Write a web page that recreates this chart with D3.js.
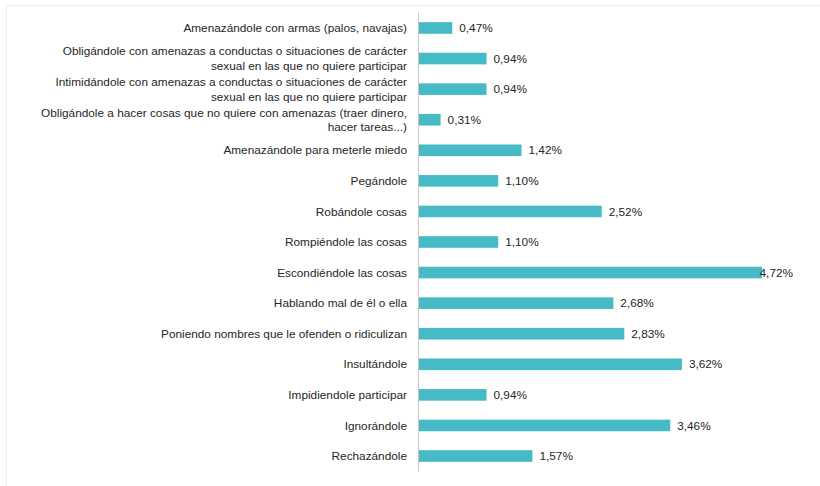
<!DOCTYPE html>
<html>
<head>
<meta charset="utf-8">
<script src="https://cdn.jsdelivr.net/npm/d3@7"></script>
<style>
  html, body { margin: 0; padding: 0; background: #ffffff; }
  svg { display: block; }
  text { font-family: "Liberation Sans", Arial, sans-serif; }
</style>
</head>
<body>
<svg id="chart" width="820" height="486"></svg>
<script>
const categories = [
  "Amenazándole con armas (palos, navajas)",
  "Obligándole con amenazas a conductas o situaciones de carácter\nsexual en las que no quiere participar",
  "Intimidándole con amenazas a conductas o situaciones de carácter\nsexual en las que no quiere participar",
  "Obligándole a hacer cosas que no quiere con amenazas (traer dinero,\nhacer tareas...)",
  "Amenazándole para meterle miedo",
  "Pegándole",
  "Robándole cosas",
  "Rompiéndole las cosas",
  "Escondiéndole las cosas",
  "Hablando mal de él o ella",
  "Poniendo nombres que le ofenden o ridiculizan",
  "Insultándole",
  "Impidiendole participar",
  "Ignorándole",
  "Rechazándole"
];
const values = [0.47, 0.94, 0.94, 0.31, 1.42, 1.10, 2.52, 1.10, 4.72, 2.68, 2.83, 3.62, 0.94, 3.46, 1.57];
const valueLabels = ["0,47%", "0,94%", "0,94%", "0,31%", "1,42%", "1,10%", "2,52%", "1,10%", "4,72%", "2,68%", "2,83%", "3,62%", "0,94%", "3,46%", "1,57%"];

const svg = d3.select("#chart");
const barColor = "#47bbc5";
const textColor = "#262626";
const fontSize = 11.8;

// faint frame
svg.append("line").attr("x1", 6).attr("x2", 820).attr("y1", 5.5).attr("y2", 5.5)
  .attr("stroke", "#ececec").attr("stroke-width", 1);
svg.append("line").attr("x1", 6.5).attr("x2", 6.5).attr("y1", 5).attr("y2", 486)
  .attr("stroke", "#ececec").attr("stroke-width", 1);

const x0 = 418;
const x = d3.scaleLinear().domain([0, 5]).range([x0, x0 + 364.5]);
const y = d3.scaleBand().domain(d3.range(categories.length))
  .range([12.7, 471.3]).paddingInner(0.62).paddingOuter(0.31);

// bars
svg.append("g").selectAll("rect").data(values).join("rect")
  .attr("x", x(0))
  .attr("y", (d, i) => y(i))
  .attr("width", d => x(d) - x(0))
  .attr("height", y.bandwidth())
  .attr("fill", barColor);

// axis line
const axis = d3.axisLeft(y).tickSize(0).tickFormat("");
const gAxis = svg.append("g").attr("transform", `translate(${x0 + 0.5},0)`).call(axis);
gAxis.select(".domain").attr("stroke", "#c8c8c8").attr("stroke-width", 1)
  .attr("d", `M0,${y.range()[0]}V${y.range()[1]}`);

// category labels
const lineH = 14.5;
const labG = svg.append("g");
categories.forEach((c, i) => {
  const lines = c.split("\n");
  const cy = y(i) + y.bandwidth() / 2;
  const t = labG.append("text")
    .attr("x", x0 - 11)
    .attr("text-anchor", "end")
    .attr("font-size", fontSize)
    .attr("fill", textColor);
  lines.forEach((ln, k) => {
    t.append("tspan")
      .attr("x", x0 - 11)
      .attr("y", cy + (k - (lines.length - 1) / 2) * lineH)
      .attr("dy", "0.35em")
      .text(ln);
  });
});

// value labels
const rightLimit = 793;
svg.append("g").selectAll("text").data(values).join("text")
  .attr("font-size", fontSize)
  .attr("fill", textColor)
  .attr("y", (d, i) => y(i) + y.bandwidth() / 2)
  .attr("dy", "0.35em")
  .text((d, i) => valueLabels[i])
  .attr("x", function(d) {
    const w = this.getComputedTextLength();
    return Math.min(x(d) + 7, rightLimit - w);
  });
</script>
</body>
</html>
